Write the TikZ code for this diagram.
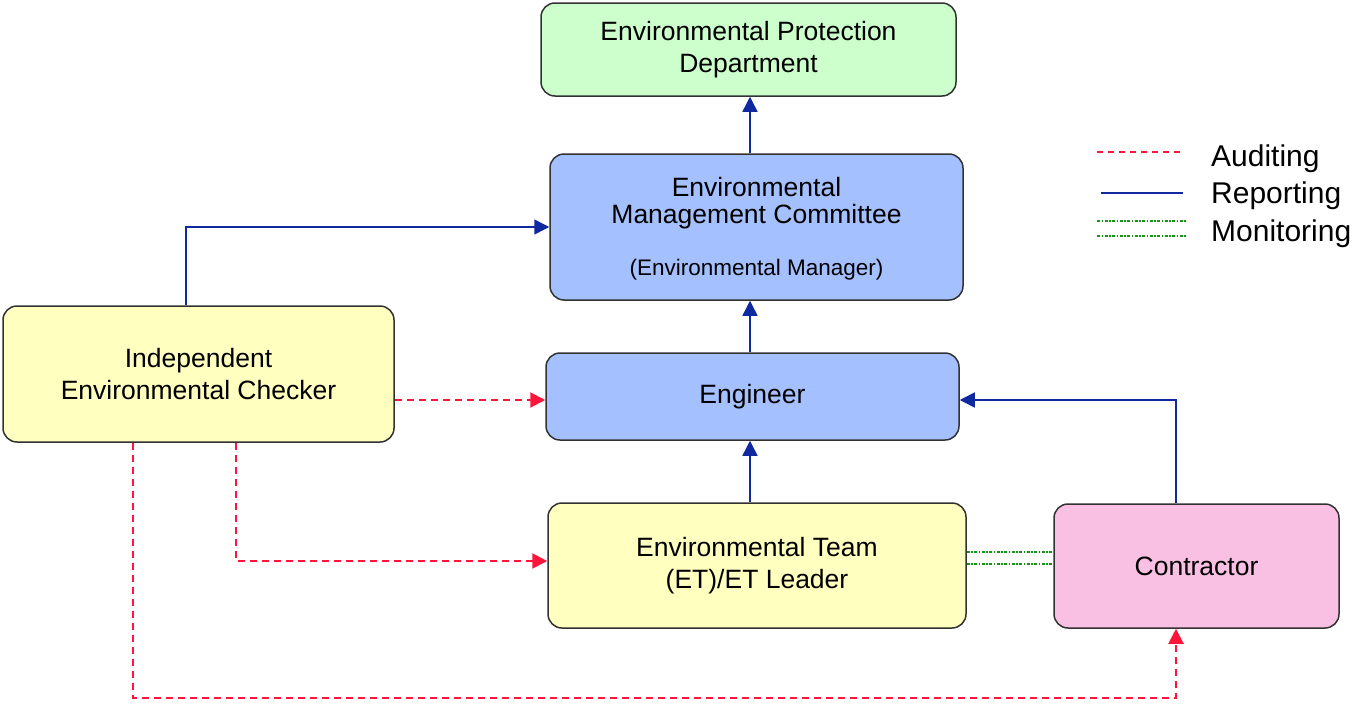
\documentclass[tikz,border=0pt]{standalone}
\usepackage{fontspec}
\setmainfont{Liberation Sans}
\usetikzlibrary{arrows.meta,calc}
\definecolor{boxgreen}{RGB}{204,255,204}
\definecolor{boxblue}{RGB}{164,192,255}
\definecolor{boxyellow}{RGB}{255,255,192}
\definecolor{boxpink}{RGB}{250,192,228}
\definecolor{reportblue}{RGB}{16,40,160}
\definecolor{auditred}{RGB}{255,20,60}
\definecolor{monitorgreen}{RGB}{20,150,20}
\definecolor{edgegray}{RGB}{50,50,50}
\begin{document}
\begin{tikzpicture}[x=1pt,y=-1pt,
  orgbox/.style={draw=edgegray,line width=1.5pt,rounded corners=14pt,inner sep=0pt,align=center,font=\fontsize{26.5}{32.5}\selectfont},
  boxtext/.style={inner sep=0pt,align=center,font=\fontsize{26.5}{32.5}\selectfont},
  smalltext/.style={inner sep=0pt,font=\fontsize{22.5}{27}\selectfont},
  legtext/.style={inner sep=0pt,anchor=west,font=\fontsize{30}{35}\selectfont},
  report/.style={draw=reportblue,line width=1.5pt,-{Triangle[length=15pt,width=15pt]}},
  audit/.style={draw=auditred,line width=2pt,dash pattern=on 7pt off 5pt,-{Triangle[length=15pt,width=15pt]}},
  monitor/.style={draw=monitorgreen,line width=1.3pt,dash pattern=on 3pt off 1.5pt on 1.5pt off 1.5pt},
]
\useasboundingbox (0,0) rectangle (1354,704);

% boxes
\node[orgbox,fill=boxgreen,minimum width=415pt,minimum height=93pt] (epd) at (748.5,49.5) {Environmental Protection\\Department};
\node[orgbox,fill=boxblue,minimum width=413pt,minimum height=146pt] (emc) at (756.5,227) {};
\node[boxtext] (emctitle) at (756.5,203) {Environmental\\[-5pt]Management Committee};
\node[smalltext] (emcsub) at (756.5,270) {(Environmental Manager)};
\node[orgbox,fill=boxblue,minimum width=413pt,minimum height=87pt] (eng) at (752.5,396.5) {Engineer};
\node[orgbox,fill=boxyellow,minimum width=391pt,minimum height=136pt] (iec) at (198.5,374) {Independent\\Environmental Checker};
\node[orgbox,fill=boxyellow,minimum width=418pt,minimum height=125pt] (et) at (757,565.5) {Environmental Team\\(ET)/ET Leader};
\node[orgbox,fill=boxpink,minimum width=285pt,minimum height=124pt] (con) at (1196.5,566) {Contractor};

% reporting
\draw[report] ([xshift=-6.5pt]emc.north) -- ([xshift=-6.5pt]emc.north |- epd.south);
\draw[report] ([xshift=-2.5pt]eng.north) -- ([xshift=-2.5pt]eng.north |- emc.south);
\draw[report] ([xshift=-7pt]et.north) -- ([xshift=-7pt]et.north |- eng.south);
\draw[report] ([xshift=-12.5pt]iec.north) |- (emc.west);
\draw[report] ([xshift=-20.5pt]con.north) |- ([yshift=-3.5pt]eng.east);

% auditing
\coordinate (audrow1) at (0,400);
\coordinate (audrow2) at (0,561);
\draw[audit] (iec.east |- audrow1) -- (eng.west |- audrow1);
\draw[audit] ([xshift=37.5pt]iec.south) |- (et.west |- audrow2);
\coordinate (auditcorner) at (1176,698);
\draw[audit] ([xshift=-65.5pt]iec.south) |- (auditcorner) -- ([xshift=-20.5pt]con.south);

% monitoring
\coordinate (mon1) at (0,552);
\coordinate (mon2) at (0,564);
\draw[monitor] (et.east |- mon1) -- (con.west |- mon1);
\draw[monitor] (et.east |- mon2) -- (con.west |- mon2);

% legend
\coordinate (la1) at (1097,152); \coordinate (la2) at (1183,152);
\coordinate (lr1) at (1101,193); \coordinate (lr2) at (1183,193);
\coordinate (lm1) at (1097,221); \coordinate (lm2) at (1187,221);
\coordinate (ln1) at (1097,236); \coordinate (ln2) at (1187,236);
\draw[draw=auditred,line width=1.3pt,dash pattern=on 6pt off 5pt] (la1) -- (la2);
\draw[draw=reportblue,line width=1.3pt] (lr1) -- (lr2);
\draw[monitor] (lm1) -- (lm2);
\draw[monitor] (ln1) -- (ln2);
\node[legtext] (legaud) at (1211,159) {Auditing};
\node[legtext] (legrep) at (1211,196) {Reporting};
\node[legtext] (legmon) at (1211,234) {Monitoring};
\end{tikzpicture}
\end{document}
